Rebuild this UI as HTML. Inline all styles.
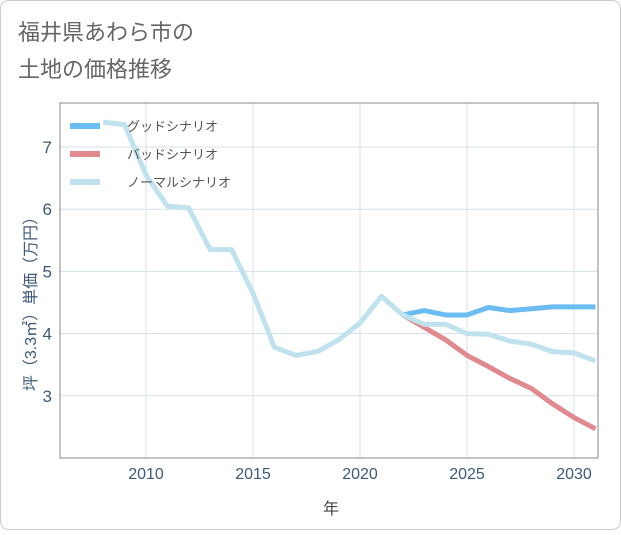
<!DOCTYPE html>
<html><head><meta charset="utf-8"><style>
body{margin:0;background:#fff;font-family:"Liberation Sans","Noto Sans CJK JP",sans-serif;}
</style></head><body>
<svg width="621" height="530" xmlns="http://www.w3.org/2000/svg">
<rect x="0.5" y="0.5" width="620" height="529" rx="8" fill="#fff" stroke="#ccc"/>
<text x="18" y="40" font-size="22" fill="#666">福井県あわら市の</text>
<text x="18" y="77" font-size="22" fill="#666">土地の価格推移</text>
<g id="grid"></g>
<rect x="60" y="103" width="538" height="355" fill="none" stroke="#888"/>
<g id="axes"></g>
<g id="lines"></g>
<g>
<line x1="70" y1="126" x2="100" y2="126" stroke="#6bbcf2" stroke-width="6"/>
<text x="127" y="131" font-size="13" fill="#555">グッドシナリオ</text>
<line x1="70" y1="154" x2="100" y2="154" stroke="#e0898f" stroke-width="6"/>
<text x="127" y="159" font-size="13" fill="#555">バッドシナリオ</text>
<line x1="70" y1="182" x2="100" y2="182" stroke="#bfe2ee" stroke-width="6"/>
<text x="127" y="187" font-size="13" fill="#555">ノーマルシナリオ</text>
</g>
<text x="331" y="514" font-size="16" fill="#444" text-anchor="middle">年</text>
<text transform="translate(36,300) rotate(-90)" font-size="16" fill="#3d5a7a" text-anchor="middle">坪（3.3㎡）単価（万円）</text>
</svg>
<script>
const years=[2008,2009,2010,2011,2012,2013,2014,2015,2016,2017,2018,2019,2020,2021,2022,2023,2024,2025,2026,2027,2028,2029,2030,2031];
const normal=[7.4,7.36,6.55,6.05,6.02,5.35,5.35,4.65,3.78,3.65,3.71,3.9,4.17,4.6,4.3,4.15,4.15,4.0,3.99,3.88,3.83,3.71,3.69,3.56];
const goodYears=[2022,2023,2024,2025,2026,2027,2028,2029,2030,2031];
const good=[4.3,4.37,4.3,4.3,4.42,4.37,4.4,4.43,4.43,4.43];
const bad=[4.3,4.1,3.9,3.65,3.47,3.28,3.12,2.87,2.65,2.47];
const xTicks=[2010,2015,2020,2025,2030];
const yTicks=[3,4,5,6,7];
const NS='http://www.w3.org/2000/svg';
const X=v=>146+(v-2010)*21.4;
const Y=v=>147+(7-v)*62.2;
const grid=document.getElementById('grid'),axes=document.getElementById('axes'),lines=document.getElementById('lines');
function mk(t,a,p){const e=document.createElementNS(NS,t);for(const k in a)e.setAttribute(k,a[k]);p.appendChild(e);return e;}
xTicks.forEach(t=>{
 const l=mk('line',{x1:X(t),x2:X(t),y1:103,y2:458,stroke:'#d5e1ea'},grid);
 
 
 const tx=mk('text',{x:X(t),y:479,'font-size':16,fill:'#3d5a7a','text-anchor':'middle'},axes);
 tx.textContent=t;
 
 
});
yTicks.forEach(t=>{
 const l=mk('line',{x1:60,x2:598,y1:Y(t),y2:Y(t),stroke:'#d5e1ea'},grid);
 
 
 const tx=mk('text',{x:52,y:Y(t)+6,'font-size':17,fill:'#3d5a7a','text-anchor':'end'},axes);
 tx.textContent=t;
 
 
});
function path(xs,vs,color,name){
 const d=xs.map((x,i)=>(i?'L':'M')+X(x)+','+Y(vs[i])).join('');
 const p=mk('path',{d:d,fill:'none',stroke:color,'stroke-width':5,'stroke-linejoin':'round'},lines);
 
 
}
path(goodYears,bad,'#e0898f','bad-scenario-line');
path(goodYears,good,'#6bbcf2','good-scenario-line');
path(years,normal,'#bfe2ee','normal-scenario-line');
</script>
</body></html>
